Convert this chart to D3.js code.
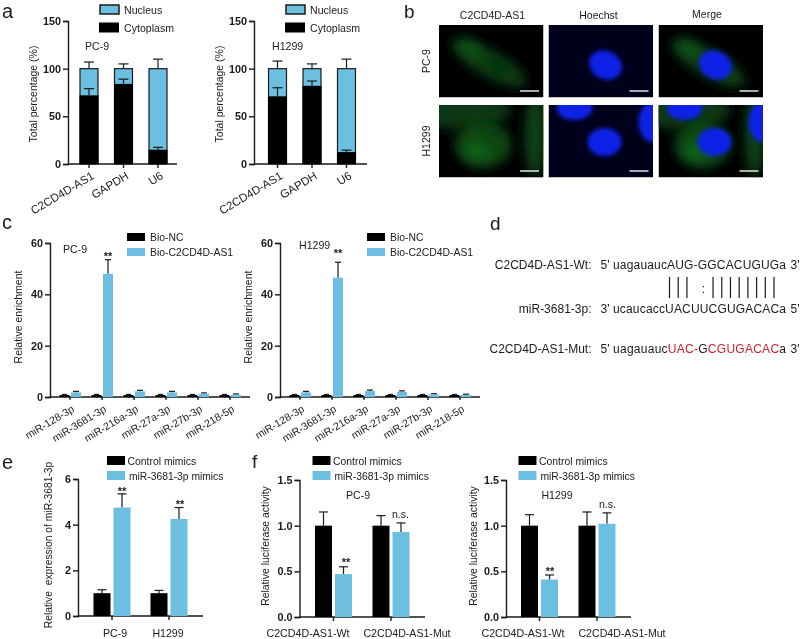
<!DOCTYPE html>
<html>
<head>
<meta charset="utf-8">
<script src="https://cdn.jsdelivr.net/npm/d3@7"></script>
<style>
  html, body { margin: 0; padding: 0; background: #fff; }
  svg { display: block; }
  text { font-family: "Liberation Sans", Arial, sans-serif; fill: #1a1a1a; }
</style>
</head>
<body>
<div id="chart"></div>
<script>
var blue = '#6cbfe0';

// panel a
var fractionCats = ['C2CD4D-AS1', 'GAPDH', 'U6'];
var pc9Cyto = [72, 84, 15];
var pc9CytoErr = [79, 89, 17.5];
var pc9NucErr = [107, 105, 110];
var h1299Cyto = [71, 82, 12.5];
var h1299CytoErr = [80, 87, 14.5];
var h1299NucErr = [108, 105, 110];
var fractionTicks = [0, 50, 100, 150];

// panel c
var mirCats = ['miR-128-3p', 'miR-3681-3p', 'miR-216a-3p', 'miR-27a-3p', 'miR-27b-3p', 'miR-218-5p'];
var pc9NC = [0.8, 0.8, 0.8, 0.8, 0.8, 0.8];
var pc9NCErr = [1, 1, 1, 1, 1, 1];
var pc9Bio = [1.8, 48, 2.2, 1.8, 1.3, 0.9];
var pc9BioErr = [2.2, 53.5, 2.6, 2.2, 1.6, 1.2];
var h1299NC = [0.8, 0.8, 0.8, 0.8, 0.8, 0.8];
var h1299NCErr = [1, 1, 1, 1, 1, 1];
var h1299Bio = [1.8, 46.5, 2.3, 2, 1, 0.8];
var h1299BioErr = [2.2, 52.5, 2.7, 2.4, 1.3, 1.1];
var enrichTicks = [0, 20, 40, 60];

// panel e
var lineCats = ['PC-9', 'H1299'];
var exprControl = [1, 1];
var exprControlErr = [1.15, 1.12];
var exprMimics = [4.75, 4.25];
var exprMimicsErr = [5.35, 4.75];
var exprTicks = [0, 2, 4, 6];

// panel f
var lucCats = ['C2CD4D-AS1-Wt', 'C2CD4D-AS1-Mut'];
var lucPc9Control = [1, 1];
var lucPc9ControlErr = [1.15, 1.11];
var lucPc9Mimics = [0.47, 0.93];
var lucPc9MimicsErr = [0.55, 1.03];
var lucH1299Control = [1, 1];
var lucH1299ControlErr = [1.12, 1.15];
var lucH1299Mimics = [0.41, 1.02];
var lucH1299MimicsErr = [0.46, 1.14];
var lucTicks = [0, 0.5, 1, 1.5];

var root = d3.select('#chart').append('svg').attr('width', 800).attr('height', 639);
var defs = root.append('defs');
[0.35, 2, 6].forEach(function(b, i) {
  defs.append('filter').attr('id', 'blur' + i)
    .attr('filterUnits', i ? 'objectBoundingBox' : 'userSpaceOnUse')
    .attr('x', i ? '-60%' : 0).attr('y', i ? '-60%' : 0)
    .attr('width', i ? '220%' : 800).attr('height', i ? '220%' : 639)
    .append('feGaussianBlur').attr('stdDeviation', b);
});
// the source figure is a soft JPEG
var svg = root.append('g').attr('filter', 'url(#blur0)');
svg.append('rect').attr('width', 800).attr('height', 639).attr('fill', '#fff');

var label = function(x, y, s, size, anchor, weight) {
  return svg.append('text').attr('x', x).attr('y', y)
    .attr('font-size', size || 10.6)
    .attr('text-anchor', anchor || 'start')
    .attr('font-weight', weight || 'normal')
    .text(s);
};

var vLabel = function(x, y, s, size) {
  return svg.append('text')
    .attr('transform', 'translate(' + x + ',' + y + ') rotate(-90)')
    .attr('font-size', size || 10.5)
    .attr('text-anchor', 'middle')
    .text(s);
};

var swatch = function(x, y, w, h, fill, stroke) {
  svg.append('rect').attr('x', x).attr('y', y).attr('width', w).attr('height', h)
    .attr('fill', fill).attr('stroke', stroke || 'none').attr('stroke-width', 1.5);
};

/**
 * Left axis plus the x baseline.
 */
var frame = function(o) {
  var y = d3.scaleLinear().domain([0, o.max]).range([o.y0, o.y1]);
  var axis = d3.axisLeft(y).tickValues(o.ticks).tickSize(5).tickPadding(2)
    .tickFormat(d3.format(o.fmt || 'd'));
  var g = svg.append('g').attr('transform', 'translate(' + o.x0 + ',0)').call(axis);
  g.selectAll('path,line').attr('stroke', '#1a1a1a').attr('stroke-width', 1.4);
  g.selectAll('text').attr('font-size', 10.8).attr('font-weight', 'bold').attr('fill', '#1a1a1a')
    .style('font-family', '"Liberation Sans", Arial, sans-serif');
  svg.append('line').attr('x1', o.x0).attr('x2', o.xEnd).attr('y1', o.y0).attr('y2', o.y0)
    .attr('stroke', '#1a1a1a').attr('stroke-width', 1.4);
  return y;
};

var xTicks = function(x, cats, y0, len) {
  svg.append('g').selectAll('line').data(cats).enter().append('line')
    .attr('x1', function(d) { return x(d); }).attr('x2', function(d) { return x(d); })
    .attr('y1', y0).attr('y2', y0 + len)
    .attr('stroke', '#1a1a1a').attr('stroke-width', 1.4);
};

var errorBars = function(xs, from, to, y, capW, color) {
  var g = svg.append('g').attr('stroke', color || '#1a1a1a').attr('stroke-width', 1.2);
  xs.forEach(function(cx, i) {
    g.append('line').attr('x1', cx).attr('x2', cx).attr('y1', y(from[i])).attr('y2', y(to[i]));
    g.append('line').attr('x1', cx - capW / 2).attr('x2', cx + capW / 2).attr('y1', y(to[i])).attr('y2', y(to[i]));
  });
};

var bars = function(xs, w, vals, y, fill) {
  svg.append('g').selectAll('rect').data(vals).enter().append('rect')
    .attr('x', function(d, i) { return xs[i] - w / 2; })
    .attr('width', w)
    .attr('y', function(d) { return y(d); })
    .attr('height', function(d) { return y(0) - y(d); })
    .attr('fill', fill);
};

/**
 * Stacked cytoplasm / nucleus panel.
 */
var drawFraction = function(o) {
  var y = frame({ x0: o.x0, xEnd: o.xEnd, y0: 164, y1: 21, max: 150, ticks: fractionTicks });
  var x = d3.scalePoint().domain(fractionCats).range(o.range);
  var xs = fractionCats.map(function(d) { return x(d); });
  var w = 18;
  errorBars(xs, xs.map(function() { return 100; }), o.nucErr, y, 10);
  svg.append('g').selectAll('rect').data(xs).enter().append('rect')
    .attr('x', function(d) { return d - w / 2; }).attr('width', w)
    .attr('y', y(100)).attr('height', y(0) - y(100))
    .attr('fill', blue).attr('stroke', '#1a1a1a').attr('stroke-width', 1.2);
  bars(xs, w + 1, o.cyto, y, '#000');
  errorBars(xs, o.cyto, o.cytoErr, y, 10);
  xTicks(x, fractionCats, 164, 4);
  fractionCats.forEach(function(c) {
    svg.append('text')
      .attr('transform', 'translate(' + (x(c) + 6) + ',178) rotate(-31)')
      .attr('font-size', 11.5).attr('text-anchor', 'end').text(c);
  });
  vLabel(o.x0 - 31, 94, 'Total percentage (%)');
  swatch(o.x0 + 32, 5, 19, 9, blue, '#1a1a1a');
  swatch(o.x0 + 31, 22.5, 20, 10, '#000');
  label(o.x0 + 56, 14, 'Nucleus');
  label(o.x0 + 56, 32, 'Cytoplasm');
  label(o.titleX, 50, o.title);
};

/**
 * Grouped enrichment panel.
 */
var drawEnrich = function(o) {
  var y = frame({ x0: o.x0, xEnd: o.x0 + 200, y0: 397, y1: 243, max: 60, ticks: enrichTicks });
  var x = d3.scalePoint().domain(mirCats).range([o.x0 + 20, o.x0 + 180]);
  var left = mirCats.map(function(d) { return x(d) - 5.5; });
  var right = mirCats.map(function(d) { return x(d) + 6; });
  errorBars(left, o.nc, o.ncErr, y, 5);
  errorBars(right, o.bio, o.bioErr, y, 6);
  bars(left, 10, o.nc, y, '#000');
  bars(right, 10, o.bio, y, blue);
  xTicks(x, mirCats, 397, 3);
  mirCats.forEach(function(c) {
    svg.append('text')
      .attr('transform', 'translate(' + (x(c) + 5) + ',411) rotate(-31)')
      .attr('font-size', 10.5).attr('text-anchor', 'end').text(c);
  });
  vLabel(o.x0 - 28, 317, 'Relative enrichment');
  swatch(o.legendX, 233, 18, 8, '#000');
  swatch(o.legendX, 248, 18, 8, blue);
  label(o.legendX + 23, 241, 'Bio-NC', 10.4);
  label(o.legendX + 23, 256, 'Bio-C2CD4D-AS1', 10.4);
  label(o.titleX, o.titleY, o.title);
  label(x(mirCats[1]) + 6, o.starY, '**', 11, 'middle', 'bold');
};

/**
 * Two series, two groups: panels e and f.
 */
var drawPair = function(o) {
  var y = frame({ x0: o.x0, xEnd: o.xEnd, y0: o.y0, y1: o.y1, max: o.max, ticks: o.ticks, fmt: o.fmt });
  var x = d3.scalePoint().domain(o.cats).range(o.range);
  var left = o.cats.map(function(d) { return x(d) - 10; });
  var right = o.cats.map(function(d) { return x(d) + 10; });
  errorBars(left, o.a, o.aErr, y, 9);
  errorBars(right, o.b, o.bErr, y, 9);
  bars(left, 17, o.a, y, '#000');
  bars(right, 17, o.b, y, blue);
  xTicks(x, o.cats, o.y0, 4);
};

var drawMimicsLegend = function(x) {
  swatch(x, 456, 18, 9, '#000');
  swatch(x, 471, 18, 9, blue);
  label(x + 20.5, 465, 'Control mimics', 10.4);
  label(x + 22, 480, 'miR-3681-3p mimics', 10.3);
};

// ----- a
drawFraction({ x0: 68, xEnd: 177, range: [89, 158], cyto: pc9Cyto, cytoErr: pc9CytoErr, nucErr: pc9NucErr, title: 'PC-9', titleX: 85 });
drawFraction({ x0: 254, xEnd: 367, range: [277.5, 346.5], cyto: h1299Cyto, cytoErr: h1299CytoErr, nucErr: h1299NucErr, title: 'H1299', titleX: 272 });

// ----- b micrographs
var cols = [439, 548.5, 658.5];
var rows = [25, 105];
var panelW = 104.5, panelH = 72.5;

// cx, cy, rx, ry, angle, colour, opacity
var pc9Green = [[50, 38, 42, 13, 30, '#0f5216', 0.8]];
var pc9Shade = [[59, 42, 14, 9, 25, '#06260a', 0.45]];
var pc9Spot = [[30, 22, 13, 7, 25, '#1a7020', 0.45]];
var pc9Blue = [[57, 40, 17, 14, 25, '#0a22e6', 1]];
var h1299Green = [[22, 6, 50, 18, 0, '#0c4212', 0.85], [96, 30, 10, 42, 0, '#0e4c16', 0.9], [44, 40, 28, 23, 0, '#105618', 0.85]];
var h1299Shade = [[54, 33, 14, 10, 0, '#0a3a10', 0.35]];
var h1299Spot = [[38, 46, 13, 9, 0, '#1c7e22', 0.5]];
var h1299Blue = [[26, 3, 18, 12, 0, '#0a22e6', 1], [104, 17, 14, 20, 0, '#0a22e6', 1], [56, 37, 17, 14, 0, '#0a22e6', 1]];

var blobs = function(g, list, blur) {
  g.selectAll(null).data(list).enter().append('ellipse')
    .attr('transform', function(d) { return 'translate(' + d[0] + ',' + d[1] + ') rotate(' + d[4] + ')'; })
    .attr('rx', function(d) { return d[2]; })
    .attr('ry', function(d) { return d[3]; })
    .attr('fill', function(d) { return d[5]; })
    .attr('opacity', function(d) { return d[6]; })
    .attr('filter', 'url(#blur' + blur + ')');
};

var micrograph = function(c, r, layers) {
  var id = 'clip' + c + r;
  defs.append('clipPath').attr('id', id).append('rect').attr('width', panelW).attr('height', panelH);
  var g = svg.append('g').attr('transform', 'translate(' + cols[c] + ',' + rows[r] + ')');
  var inner = g.append('g').attr('clip-path', 'url(#' + id + ')');
  inner.append('rect').attr('width', panelW).attr('height', panelH).attr('fill', c === 1 ? '#00001a' : '#000006');
  layers.forEach(function(l) { blobs(inner, l[0], l[1]); });
  g.append('line').attr('x1', 81).attr('x2', 100).attr('y1', 66).attr('y2', 66)
    .attr('stroke', '#f4f4f4').attr('stroke-width', 1.4);
};

micrograph(0, 0, [[pc9Green, 2], [pc9Shade, 2], [pc9Spot, 2]]);
micrograph(1, 0, [[pc9Blue, 1]]);
micrograph(2, 0, [[pc9Green, 2], [pc9Spot, 2], [pc9Blue, 1]]);
micrograph(0, 1, [[h1299Green, 2], [h1299Shade, 2], [h1299Spot, 2]]);
micrograph(1, 1, [[h1299Blue, 1]]);
micrograph(2, 1, [[h1299Green, 2], [h1299Spot, 2], [h1299Blue, 1]]);

label(492.5, 19, 'C2CD4D-AS1', 10.5, 'middle');
label(598.5, 19, 'Hoechst', 10.5, 'middle');
label(707, 18, 'Merge', 10.5, 'middle');
vLabel(430, 61, 'PC-9');
vLabel(430, 141, 'H1299');

// ----- c
drawEnrich({ x0: 50, legendX: 127, nc: pc9NC, ncErr: pc9NCErr, bio: pc9Bio, bioErr: pc9BioErr, title: 'PC-9', titleX: 63, titleY: 253, starY: 260 });
drawEnrich({ x0: 280, legendX: 367, nc: h1299NC, ncErr: h1299NCErr, bio: h1299Bio, bioErr: h1299BioErr, title: 'H1299', titleX: 299, titleY: 249, starY: 257 });

// ----- d alignment
var seqX = 613, seqW = 173;
var rowLabels = ['C2CD4D-AS1-Wt:', 'miR-3681-3p:', 'C2CD4D-AS1-Mut:'];
var rowY = [269, 313, 353];
var rowEnds = [["5'", "3'"], ["3'", "5'"], ["5'", "3'"]];
var wtSeq = [['uagauauc', 0], ['AUG-GGCACUGUG', 0], ['a', 0]];
var mirSeq = [['ucaucacc', 0], ['UACUUCGUGACAC', 0], ['a', 0]];
var mutSeq = [['uagauauc', 0], ['UAC-', 1], ['G', 0], ['CGUGACAC', 1], ['a', 0]];
var seqRows = [wtSeq, mirSeq, mutSeq];
var pairIdx = [0, 1, 2, 5, 6, 7, 8, 9, 10, 11, 12];
var wobbleIdx = [3.9];

seqRows.forEach(function(parts, i) {
  label(591.5, rowY[i], rowLabels[i], 12, 'end');
  label(600.5, rowY[i], rowEnds[i][0], 12);
  label(790.5, rowY[i], rowEnds[i][1], 12);
  var t = svg.append('text').attr('x', seqX).attr('y', rowY[i]).attr('font-size', 12)
    .attr('textLength', seqW).attr('lengthAdjust', 'spacing');
  parts.forEach(function(p) {
    t.append('tspan').text(p[0]).style('fill', p[1] ? '#d3202a' : '#1a1a1a');
  });
});

var pairX = d3.scaleLinear().domain([0, 12]).range([669.5, 774]);
svg.append('g').selectAll('line').data(pairIdx).enter().append('line')
  .attr('x1', function(d) { return pairX(d); }).attr('x2', function(d) { return pairX(d); })
  .attr('y1', 277).attr('y2', 298)
  .attr('stroke', '#1a1a1a').attr('stroke-width', 1.2);
wobbleIdx.forEach(function(d) { label(pairX(d), 293, ':', 12, 'middle'); });

// ----- e
drawPair({ x0: 78, xEnd: 203, y0: 616, y1: 479, max: 6, ticks: exprTicks, cats: lineCats, range: [112, 169],
  a: exprControl, aErr: exprControlErr, b: exprMimics, bErr: exprMimicsErr });
vLabel(52, 545, 'Relative\u00a0 expression of miR-3681-3p', 10.3);
drawMimicsLegend(107);
label(115, 637, 'PC-9', 10.6, 'middle');
label(168, 637, 'H1299', 10.6, 'middle');
label(122, 495, '**', 11, 'middle', 'bold');
label(180, 508, '**', 11, 'middle', 'bold');

// ----- f
drawPair({ x0: 299.5, xEnd: 425, y0: 617, y1: 480, max: 1.5, ticks: lucTicks, fmt: '.1f', cats: lucCats, range: [333.5, 391],
  a: lucPc9Control, aErr: lucPc9ControlErr, b: lucPc9Mimics, bErr: lucPc9MimicsErr });
drawPair({ x0: 506, xEnd: 631, y0: 617, y1: 480, max: 1.5, ticks: lucTicks, fmt: '.1f', cats: lucCats, range: [539.5, 597],
  a: lucH1299Control, aErr: lucH1299ControlErr, b: lucH1299Mimics, bErr: lucH1299MimicsErr });
vLabel(269, 546, 'Relative luciferase activity', 10.4);
vLabel(477, 546, 'Relative luciferase activity', 10.4);
drawMimicsLegend(312.5);
drawMimicsLegend(518.5);
label(358, 499, 'PC-9', 10.6, 'middle');
label(557, 499, 'H1299', 10.6, 'middle');
label(308, 637, lucCats[0], 10.7, 'middle');
label(407, 637, lucCats[1], 10.6, 'middle');
label(523, 637, lucCats[0], 10.7, 'middle');
label(622, 637, lucCats[1], 10.6, 'middle');
label(346, 566, '**', 11, 'middle', 'bold');
label(550, 575, '**', 11, 'middle', 'bold');
label(400.5, 518, 'n.s.', 10.6, 'middle');
label(607.5, 508, 'n.s.', 10.6, 'middle');

// ----- panel letters
label(2, 18, 'a', 20);
label(404, 18, 'b', 19);
label(2, 229, 'c', 20);
label(490, 230, 'd', 19);
label(2, 469, 'e', 20);
label(252, 468, 'f', 19);
</script>
</body>
</html>
